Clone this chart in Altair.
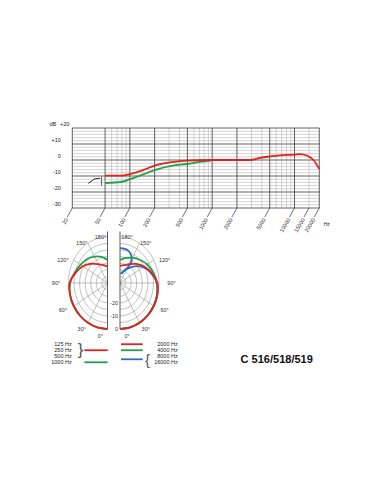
import altair as alt
import numpy as np
import pandas as pd

FONT = "Liberation Sans"
RED = "#e2221c"
GREEN = "#20a048"
BLUE = "#2a70b8"
INK = "#222222"

# ---------------- frequency response data ----------------
freq_red = [50, 80, 100, 145, 200, 330, 500, 1000, 2000, 2900, 3800, 5000, 6600, 10000, 11600, 14100, 17000, 20000]
db_red = [-9.8, -9.8, -8.8, -6.3, -3.5, -1.3, -0.4, 0.0, 0.0, 0.0, 1.3, 2.2, 2.9, 3.4, 3.7, 2.8, 0.0, -5.6]
freq_green = [50, 80, 100, 145, 200, 330, 500, 700, 1000]
db_green = [-14.4, -13.6, -12.0, -9.0, -6.3, -3.5, -2.5, -1.2, -0.2]

# bass-cut switch symbol drawn inside the plot
icon_f = [31.3, 37.0, 43.4]
icon_db = [-14.6, -11.9, -11.4]
icon_bar_f = [45.3]
icon_bar_lo = [-16.0]
icon_bar_hi = [-10.4]

x_major = [20, 50, 100, 200, 500, 1000, 2000, 5000, 10000, 20000]
x_minor = [60, 70, 80, 90, 300, 400, 600, 700, 800, 900, 3000, 4000, 6000, 7000, 8000, 9000, 15000]
y_major = [-30, -20, -10, 0, 10, 20]
y_minor = [v for v in range(-28, 20, 2) if v % 10 != 0]
x_tick_values = [20, 50, 100, 200, 500, 1000, 2000, 5000, 10000, 15000, 20000]
x_tick_labels = ["20", "50", "100", "200", "500", "1000", "2000", "5000", "10000", "15000", "20000"]
y_tick_values = [10, 0, -10, -20, -30]
y_tick_labels = ["+10", "0", "-10", "-20", "-30"]

# ---------------- polar pattern data (angle in degrees, level in dB) ----------------
angles15 = [0, 15, 30, 45, 60, 75, 90, 105, 120, 135, 150, 165, 180]
red_left_db = [0, 0, 0, 0, 0, -0.2, -1.0, -5.3, -9.5, -14.3, -18.5, -21.0, -22.5]      # 125/250/500 Hz
green_left_db = [0, 0, 0, 0, 0, -0.3, -1.5, -4.5, -7.2, -9.2, -11.8, -14.5, -17.4]     # 1000 Hz
red_right_db = [0, 0, 0, 0, 0, -0.3, -1.5, -5.5, -10.0, -14.5, -18.5, -21.0, -22.0]    # 2000 Hz
green_right_db = [0, 0, 0, 0, 0, -0.4, -1.8, -4.0, -6.8, -10.0, -12.8, -15.2, -17.4]   # 4000 Hz
blue_a_angles = [180, 165, 155, 148, 150, 160, 172]                                   # 16000 Hz rear lobe
blue_a_db = [-8.5, -9.0, -11.5, -15.5, -21.5, -25.5, -28.0]
blue_b_angles = [176, 151, 131, 115, 98, 90, 75, 60, 45, 30, 15, 0]                   # 8000 Hz
blue_b_db = [-28.0, -23.0, -15.4, -9.1, -4.0, -2.0, -0.6, -0.2, 0, 0, 0, 0]

ring_db = [0, -5, -10, -15, -20, -25, -30]
spoke_angles = [30, 60, 90, 120, 150]
angle_label_values = [0, 30, 60, 90, 120, 150, 180]
ring_label_db = [0, -10, -20]
ring_label_text = ["0", "-10", "-20"]

legend_left = ["125 Hz", "250 Hz", "500 Hz", "1000 Hz"]
legend_right = ["2000 Hz", "4000 Hz", "8000 Hz", "16000 Hz"]
title_text = "C 516/518/519"

# ---------------- frequency chart ----------------
X0, X1 = 72.3, 319.3
Y0, Y1 = 208, 128
fx = alt.Scale(type="log", domain=[20, 20000], range=[X0, X1])
fy = alt.Scale(domain=[-30, 20], range=[Y0, Y1])
PX_DEC = (X1 - X0) / 3.0
PX_DB = (Y0 - Y1) / 50.0


def fX(f):
    return alt.X(f, type="quantitative", scale=fx, axis=None)


def fY(f):
    return alt.Y(f, type="quantitative", scale=fy, axis=None)


vmin = pd.DataFrame({"f": x_minor, "lo": -30, "hi": 20})
vmaj = pd.DataFrame({"f": x_major, "lo": -30, "hi": 20})
hmin = pd.DataFrame({"db": y_minor, "f0": 20, "f1": 20000})
hmaj = pd.DataFrame({"db": y_major, "f0": 20, "f1": 20000})

grid = alt.layer(
    alt.Chart(hmin).mark_rule(color="#a8a8a8", strokeWidth=0.5).encode(x=fX("f0"), x2="f1", y=fY("db")),
    alt.Chart(vmin).mark_rule(color="#a8a8a8", strokeWidth=0.5).encode(x=fX("f"), y=fY("lo"), y2="hi"),
    alt.Chart(hmaj).mark_rule(color="#3a3a3a", strokeWidth=0.8).encode(x=fX("f0"), x2="f1", y=fY("db")),
    alt.Chart(vmaj).mark_rule(color="#3a3a3a", strokeWidth=0.8).encode(x=fX("f"), y=fY("lo"), y2="hi"),
)

ticks_df = pd.DataFrame({
    "f": x_tick_values,
    "f2": [v * 10 ** (-5.0 / PX_DEC) for v in x_tick_values],
    "lf": [v * 10 ** (-5.8 / PX_DEC) for v in x_tick_values],
    "y": -30.0,
    "y2": -30 - 9.0 / PX_DB,
    "ly": -30 - 10.5 / PX_DB,
    "label": x_tick_labels,
})
ticks = alt.Chart(ticks_df).mark_rule(color="#333", strokeWidth=0.7).encode(
    x=fX("f"), x2="f2", y=fY("y"), y2="y2")
tick_labels = alt.Chart(ticks_df).mark_text(
    font=FONT, fontSize=5.5, angle=300, align="right", baseline="middle", color=INK
).encode(x=fX("lf"), y=fY("ly"), text="label:N")

hz_label = alt.Chart(pd.DataFrame({"f": [20000], "db": [-40], "t": ["Hz"]})).mark_text(
    font=FONT, fontSize=5, align="center", baseline="middle", dx=7.5, color=INK
).encode(x=fX("f"), y=fY("db"), text="t:N")

ylab_df = pd.DataFrame({"f": 20, "db": y_tick_values, "t": y_tick_labels})
ylabels = alt.Chart(ylab_df).mark_text(
    font=FONT, fontSize=5.5, align="right", baseline="middle", dx=-11.5, dy=-4, color=INK
).encode(x=fX("f"), y=fY("db"), text="t:N")
top_lab = pd.DataFrame({"f": [20, 20], "db": [20, 20], "t": ["+20", "dB"], "o": [0, 1]})
ylab_top1 = alt.Chart(top_lab[top_lab.o == 0]).mark_text(
    font=FONT, fontSize=5.5, align="right", baseline="middle", dx=-3, dy=-4, color=INK
).encode(x=fX("f"), y=fY("db"), text="t:N")
ylab_top2 = alt.Chart(top_lab[top_lab.o == 1]).mark_text(
    font=FONT, fontSize=5.5, align="right", baseline="middle", dx=-16, dy=-4, color=INK
).encode(x=fX("f"), y=fY("db"), text="t:N")

icon = alt.layer(
    alt.Chart(pd.DataFrame({"f": icon_f, "db": icon_db, "o": range(3)})).mark_line(
        color="#111", strokeWidth=0.9).encode(x=fX("f"), y=fY("db"), order="o:Q"),
    alt.Chart(pd.DataFrame({"f": icon_bar_f, "lo": icon_bar_lo, "hi": icon_bar_hi})).mark_rule(
        color="#111", strokeWidth=0.7).encode(x=fX("f"), y=fY("lo"), y2="hi"),
)

curve_green = alt.Chart(pd.DataFrame({"f": freq_green, "db": db_green})).mark_line(
    color=GREEN, strokeWidth=1.8, interpolate="monotone").encode(x=fX("f"), y=fY("db"))
curve_red = alt.Chart(pd.DataFrame({"f": freq_red, "db": db_red})).mark_line(
    color=RED, strokeWidth=1.8, interpolate="monotone").encode(x=fX("f"), y=fY("db"))

freq_chart = alt.layer(grid, ticks, tick_labels, hz_label, ylabels, ylab_top1, ylab_top2,
                       icon, curve_green, curve_red)

# ---------------- polar chart ----------------
CX_MID = 113.75
RX, RY, CY = 39.0, 46.0, 283.0
G = 6.25 / RX
px_scale = alt.Scale(domain=[-1, 1], range=[CX_MID - RX, CX_MID + RX])
py_scale = alt.Scale(domain=[-1, 1], range=[CY + RY, CY - RY])
DB_FLOOR = 35.0


def pX(f):
    return alt.X(f, type="quantitative", scale=px_scale, axis=None)


def pY(f):
    return alt.Y(f, type="quantitative", scale=py_scale, axis=None)


def polar_df(angles, dbs, side, group):
    a = np.radians(np.array(angles, dtype=float))
    r = np.clip((np.array(dbs, dtype=float) + DB_FLOOR) / DB_FLOOR, 0, None)
    return pd.DataFrame({
        "px": side * (G + r * np.sin(a)),
        "py": -r * np.cos(a),
        "ord": np.arange(len(angles)),
        "g": group,
    })


ring_rows = []
for side in (-1, 1):
    for d in ring_db:
        ring_rows.append(polar_df(list(range(0, 181, 3)), [d] * 61, side, f"{side}_{d}"))
rings_df = pd.concat(ring_rows, ignore_index=True)
rings = alt.Chart(rings_df).mark_line(color="#808080", strokeWidth=0.5).encode(
    x=pX("px"), y=pY("py"), order="ord:Q", detail="g:N")

spk = []
for side in (-1, 1):
    for a in spoke_angles:
        ar = np.radians(a)
        spk.append({"x0": side * G, "y0": 0.0, "x1": side * (G + np.sin(ar)), "y1": -np.cos(ar)})
    spk.append({"x0": side * G, "y0": -1.0, "x1": side * G, "y1": 1.12})
spokes = alt.Chart(pd.DataFrame(spk[:5] + spk[6:11])).mark_rule(color="#808080", strokeWidth=0.5).encode(
    x=pX("x0"), y=pY("y0"), x2="x1", y2="y1")
axes_v = alt.Chart(pd.DataFrame([spk[5], spk[11]])).mark_rule(color="#333", strokeWidth=0.8).encode(
    x=pX("x0"), y=pY("y0"), x2="x1", y2="y1")

lab_rows = []
for side in (-1, 1):
    for a in angle_label_values:
        ar = np.radians(a)
        lx = max(1.32 * np.sin(ar), 0.18)
        c = np.cos(ar)
        ly = -c * (1.16 if c > 0 else 1.0)
        lab_rows.append({"x": side * (G + lx), "y": ly, "t": f"{a}°"})
angle_labels = alt.Chart(pd.DataFrame(lab_rows)).mark_text(
    font=FONT, fontSize=5.5, align="center", baseline="middle", color="#333"
).encode(x=pX("x"), y=pY("y"), text="t:N")

rl_df = pd.DataFrame({
    "x": G, "y": [-(d + DB_FLOOR) / DB_FLOOR for d in ring_label_db], "t": ring_label_text})
ring_labels = alt.Chart(rl_df).mark_text(
    font=FONT, fontSize=5.5, align="right", baseline="middle", dx=-2, color="#333"
).encode(x=pX("x"), y=pY("y"), text="t:N")

blue_df = pd.concat([polar_df(blue_a_angles, blue_a_db, 1, "16000"),
                     polar_df(blue_b_angles, blue_b_db, 1, "8000")], ignore_index=True)
green_df = pd.concat([polar_df(angles15, green_left_db, -1, "1000"),
                      polar_df(angles15, green_right_db, 1, "4000")], ignore_index=True)
red_df = pd.concat([polar_df(angles15, red_left_db, -1, "low"),
                    polar_df(angles15, red_right_db, 1, "2000")], ignore_index=True)


def pol_line(df, color):
    return alt.Chart(df).mark_line(color=color, strokeWidth=1.8, interpolate="catmull-rom").encode(
        x=pX("px"), y=pY("py"), order="ord:Q", detail="g:N")


polar_chart = alt.layer(rings, spokes, axes_v, angle_labels, ring_labels,
                        pol_line(blue_df, BLUE), pol_line(green_df, GREEN), pol_line(red_df, RED))

# ---------------- legend ----------------
ly_scale = alt.Scale(domain=[0, 3], range=[344.2, 362.3])


def lY(f):
    return alt.Y(f, type="quantitative", scale=ly_scale, axis=None)


leg_l_txt = alt.Chart(pd.DataFrame({"row": range(4), "t": legend_left})).mark_text(
    font=FONT, fontSize=5.5, align="right", baseline="middle", color=INK
).encode(x=alt.value(71.7), y=lY("row"), text="t:N")
leg_r_txt = alt.Chart(pd.DataFrame({"row": range(4), "t": legend_right})).mark_text(
    font=FONT, fontSize=5.5, align="right", baseline="middle", color=INK
).encode(x=alt.value(177.7), y=lY("row"), text="t:N")
leg_l_lines = alt.Chart(pd.DataFrame({"row": [1, 3], "c": [RED, GREEN]})).mark_rule(strokeWidth=1.8).encode(
    x=alt.value(84.3), x2=alt.value(107.7), y=lY("row"), color=alt.Color("c:N", scale=None))
leg_r_lines = alt.Chart(pd.DataFrame({"row": [0, 1, 2.5], "c": [RED, GREEN, BLUE]})).mark_rule(strokeWidth=1.8).encode(
    x=alt.value(121), x2=alt.value(142.7), y=lY("row"), color=alt.Color("c:N", scale=None))
brace_l = alt.Chart(pd.DataFrame({"row": [1.0], "t": ["}"]})).mark_text(
    font=FONT, fontSize=17, align="center", baseline="middle", color="#555"
).encode(x=alt.value(80.5), y=lY("row"), text="t:N")
brace_r = alt.Chart(pd.DataFrame({"row": [2.67], "t": ["{"]})).mark_text(
    font=FONT, fontSize=15, align="center", baseline="middle", color="#555"
).encode(x=alt.value(147.5), y=lY("row"), text="t:N")

legend = alt.layer(leg_l_lines, leg_r_lines, leg_l_txt, leg_r_txt, brace_l, brace_r)

title = alt.Chart(pd.DataFrame({"t": [title_text]})).mark_text(
    font=FONT, fontSize=11, fontWeight="bold", align="center", baseline="middle", color="#111"
).encode(x=alt.value(276.7), y=alt.value(360), text="t:N")

chart = alt.layer(freq_chart, polar_chart, legend, title).resolve_scale(
    x="independent", y="independent"
).properties(
    width=381, height=492, autosize=alt.AutoSizeParams(type="none"), padding=0,
    background="white"
).configure_view(stroke=None)

chart.save("out.html", embed_options={"renderer": "svg", "actions": False})
